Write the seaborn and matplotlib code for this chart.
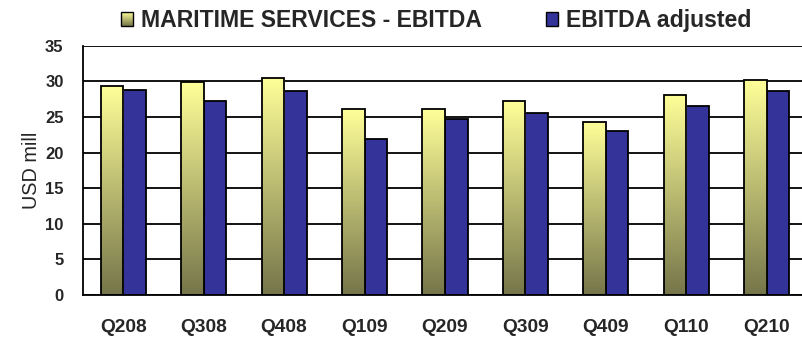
import numpy as np
import pandas as pd
import seaborn as sns
import matplotlib
matplotlib.use("Agg")
import matplotlib.pyplot as plt
from matplotlib.colors import LinearSegmentedColormap
from matplotlib.patches import Rectangle
from matplotlib.legend_handler import HandlerBase
from matplotlib.image import BboxImage
from matplotlib.transforms import Bbox, TransformedBbox
from matplotlib.ticker import FixedLocator

# Quarterly EBITDA figures (USD mill)
quarters = ["Q208", "Q308", "Q408", "Q109", "Q209", "Q309", "Q409", "Q110", "Q210"]
ebitda = [29.4, 29.9, 30.5, 26.1, 26.1, 27.2, 24.3, 28.1, 30.2]
ebitda_adjusted = [28.85, 27.2, 28.6, 21.85, 24.7, 25.6, 23.0, 26.5, 28.6]
series_names = ["MARITIME SERVICES - EBITDA", "EBITDA adjusted"]

yellow_top = "#FFFF99"
yellow_bottom = "#75754A"
blue = "#333399"

df = pd.DataFrame({
    "quarter": quarters * 2,
    "value": ebitda + ebitda_adjusted,
    "series": [series_names[0]] * len(quarters) + [series_names[1]] * len(quarters),
})

sns.set_style("white")
plt.rcParams["font.family"] = ["Liberation Sans", "DejaVu Sans"]

W, H = 803, 339
fig = plt.figure(figsize=(W / 100, H / 100), dpi=100)
ax = fig.add_axes([83 / W, 44 / H, 724 / W, 249.3 / H])

sns.barplot(data=df, x="quarter", y="value", hue="series",
            palette=[yellow_top, blue], width=0.56, edgecolor="black",
            linewidth=1.3, saturation=1, legend=False, ax=ax)

# Vertical olive-to-yellow gradient inside the first series' bars
grad_cmap = LinearSegmentedColormap.from_list("olive_yellow", [yellow_bottom, yellow_top])
grad = np.linspace(0, 1, 256).reshape(-1, 1)
bars = [p for p in ax.patches if isinstance(p, Rectangle)]
first_series = bars[:len(quarters)]
for p in first_series:
    x0, y0 = p.get_x(), p.get_y()
    x1, y1 = x0 + p.get_width(), y0 + p.get_height()
    im = ax.imshow(grad, extent=[x0, x1, y0, y1], origin="lower", aspect="auto",
                   cmap=grad_cmap, interpolation="bilinear", zorder=p.get_zorder())
    im.set_clip_path(p)
    p.set_facecolor("none")
    p.set_zorder(p.get_zorder() + 0.1)

ax.set_xlim(-0.5, len(quarters) - 0.5)
ax.set_ylim(0, 35)
ax.set_yticks(np.arange(0, 36, 5))
ax.yaxis.grid(True, color="black", linewidth=1.3)
ax.xaxis.grid(False)
ax.set_axisbelow(True)

for side in ["top", "right"]:
    ax.spines[side].set_visible(False)
for side in ["left", "bottom"]:
    ax.spines[side].set_color("black")
    ax.spines[side].set_linewidth(1.3)

ax.set_xlabel("")
ax.set_ylabel("USD mill", fontsize=14.3, labelpad=3)
ax.tick_params(axis="x", which="major", length=0, pad=17, labelsize=13.8)
ax.xaxis.set_minor_locator(FixedLocator(np.arange(-0.5, len(quarters), 1.0)))
ax.tick_params(axis="x", which="minor", length=6, width=1.3, color="black", direction="out")
ax.tick_params(axis="y", length=6, width=1.3, color="black", direction="out", pad=8, labelsize=12)
for lab in ax.get_xticklabels() + ax.get_yticklabels():
    lab.set_fontweight("bold")


class GradientHandler(HandlerBase):
    def create_artists(self, legend, orig_handle, xdescent, ydescent,
                       width, height, fontsize, trans):
        bb = TransformedBbox(Bbox.from_bounds(-xdescent, -ydescent, width, height), trans)
        img = BboxImage(bb, cmap=grad_cmap, interpolation="bilinear", origin="lower")
        img.set_data(grad)
        edge = Rectangle((-xdescent, -ydescent), width, height, facecolor="none",
                         edgecolor="black", linewidth=1.0, transform=trans)
        return [img, edge]


h_yellow = Rectangle((0, 0), 1, 1, facecolor=yellow_top, edgecolor="black")
h_blue = Rectangle((0, 0), 1, 1, facecolor=blue, edgecolor="black", linewidth=1.0)
fig.legend([h_yellow, h_blue], series_names, handler_map={h_yellow: GradientHandler()},
           loc="center", bbox_to_anchor=(436 / W, 1 - 20.5 / H), ncol=2, frameon=False,
           prop={"weight": "bold", "size": 16.6}, handlelength=0.52, handleheight=0.52,
           handletextpad=0.35, columnspacing=2.75, borderaxespad=0, borderpad=0)

fig.savefig("out.png", dpi=100)
